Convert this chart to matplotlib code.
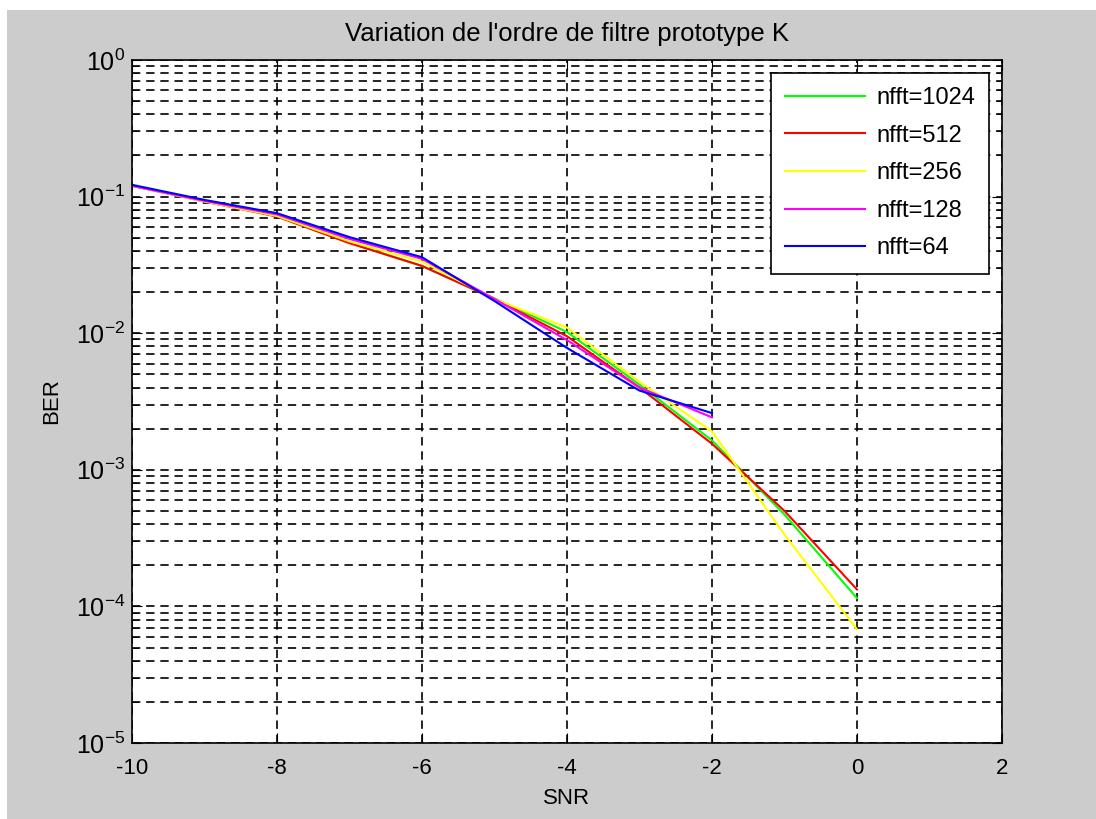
import numpy as np
import matplotlib
matplotlib.use('Agg')
import matplotlib.pyplot as plt
from matplotlib.patches import Rectangle

plt.rcParams['font.family'] = ['Liberation Sans', 'DejaVu Sans']
plt.rcParams['axes.unicode_minus'] = False

# SNR points and BER
snr = [-10, -9, -8, -7, -6, -5, -4, -3, -2, -1, 0]
snr_short = [-10, -9, -8, -7, -6, -5, -4, -3, -2]

ber_1024 = [0.12, 0.093, 0.072, 0.046, 0.031, 0.018, 0.0102, 0.0042, 0.00164, 0.00047, 0.000115]
ber_512 = [0.12, 0.092, 0.0714, 0.0456, 0.0311, 0.0178, 0.0095, 0.0040, 0.00155, 0.0005, 0.000133]
ber_256 = [0.12, 0.092, 0.072, 0.047, 0.0334, 0.0178, 0.011, 0.0044, 0.00191, 0.000335, 0.000068]
ber_128 = [0.12, 0.093, 0.074, 0.049, 0.035, 0.0178, 0.0089, 0.0040, 0.00242]
ber_64 = [0.122, 0.0946, 0.0756, 0.0505, 0.036, 0.0172, 0.0078, 0.0038, 0.0026]

labels = ['nfft=1024', 'nfft=512', 'nfft=256', 'nfft=128', 'nfft=64']
colors = ['#00ff00', '#ff0000', '#ffff00', '#ff00ff', '#0000ff']

W, H = 1096, 819
fig = plt.figure(figsize=(W/100, H/100), dpi=100, facecolor='white')
# grey figure area, white strip on top and left like the screenshot
fig.patches.append(Rectangle((7/W, 0), 1 - 7/W, 1 - 10/H, transform=fig.transFigure,
                             facecolor='#cccccc', edgecolor='none', zorder=-10))

ax = fig.add_axes([132/W, (H-743)/H, 870/W, 683/H])
ax.set_facecolor('white')

series = [(snr, ber_1024), (snr, ber_512), (snr, ber_256), (snr_short, ber_128), (snr_short, ber_64)]
for (x, y), c, lab in zip(series, colors, labels):
    ax.plot(x, y, color=c, lw=1.5, label=lab)

ax.set_yscale('log')
ax.set_xlim(-10, 2)
ax.set_ylim(1e-5, 1)
ax.set_xticks([-10, -8, -6, -4, -2, 0, 2])
ax.set_yticks([1e-5, 1e-4, 1e-3, 1e-2, 1e-1, 1])

dash = (0, (5, 3.5))
ax.grid(True, which='major', axis='both', color='black', lw=1.2, linestyle=dash)
ax.grid(True, which='minor', axis='y', color='black', lw=1.2, linestyle=dash)

ax.tick_params(which='both', direction='in', top=True, right=True, colors='black')
ax.tick_params(which='major', length=7)
ax.tick_params(which='minor', length=4)
ax.tick_params(axis='x', pad=11, labelsize=16)
ax.tick_params(axis='y', pad=5, labelsize=18)
for s in ax.spines.values():
    s.set_linewidth(1.2)

ax.set_title("Variation de l'ordre de filtre prototype K", fontsize=18.5, pad=14)
ax.set_xlabel('SNR', fontsize=16, labelpad=6)
ax.set_ylabel('BER', fontsize=16, labelpad=10)

leg = ax.legend(loc='upper right', bbox_to_anchor=((989-132)/870, (743-73)/683),
                borderaxespad=0, fancybox=False, framealpha=1, edgecolor='black',
                fontsize=17, handlelength=3.4, handletextpad=0.45, labelspacing=0.66,
                borderpad=0.6)
leg.get_frame().set_linewidth(1.2)

fig.savefig('out.png', dpi=100, facecolor=fig.get_facecolor())
